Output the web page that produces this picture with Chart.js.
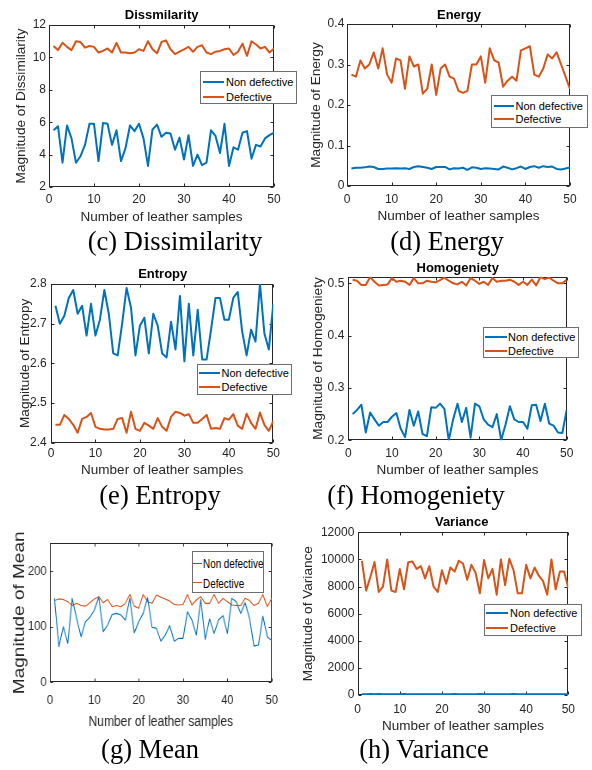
<!DOCTYPE html>
<html><head><meta charset="utf-8">
<script src="https://cdn.jsdelivr.net/npm/chart.js@4.4.1/dist/chart.umd.min.js"></script>
<style>
html,body{margin:0;padding:0;background:#fff;}
#page{position:relative;width:592px;height:770px;overflow:hidden;background:#fff;}
canvas{position:absolute;}
.t{position:absolute;white-space:nowrap;transform:translate(-50%,-50%);line-height:1;}
.ttl{font:bold 13px "Liberation Sans",Arial,sans-serif;color:#000;}
.cap{font:26.5px "Liberation Serif","Times New Roman",serif;color:#000;}
.lg{position:absolute;background:#fff;border:1px solid #6e6e6e;box-sizing:border-box;}
.lgl{position:absolute;}
.lgt{position:absolute;white-space:nowrap;line-height:1;transform:translateY(-50%);color:#000;font-family:"Liberation Sans",Arial,sans-serif;}
</style></head>
<body><div id="page"></div>
<script>
// ---------------- DATA ----------------
const samples = [1,2,3,4,5,6,7,8,9,10,11,12,13,14,15,16,17,18,19,20,21,22,23,24,25,26,27,28,29,30,31,32,33,34,35,36,37,38,39,40,41,42,43,44,45,46,47,48,49,50];
const xTicks = [0,10,20,30,40,50];
const seriesNames = ['Non defective','Defective'];

const dissimNon = [5.5,5.75,3.5,5.8,5.0,3.5,3.9,4.6,5.9,5.9,3.6,5.95,5.9,4.6,5.5,3.6,4.4,5.8,5.45,5.9,5.0,3.3,5.55,5.85,5.1,5.35,5.3,4.3,5.05,3.7,5.2,3.3,4.0,3.35,3.5,5.5,5.15,4.1,5.9,3.3,4.45,4.3,5.35,5.45,3.75,4.6,4.5,5.0,5.2,5.35];
const dissimDef = [10.7,10.45,10.9,10.65,10.45,11.0,10.95,10.6,10.7,10.65,10.3,10.4,10.55,10.3,10.9,10.3,10.3,10.25,10.3,10.5,10.4,11.0,10.5,10.25,10.95,11.05,10.5,10.2,10.35,10.5,10.65,10.35,10.65,10.75,10.3,10.2,10.35,10.4,10.5,10.55,10.15,10.35,10.85,10.1,11.0,10.8,10.55,10.65,10.3,10.55];
const dissimTicks = [2,4,6,8,10,12];

const energyNon = [0.043,0.045,0.045,0.046,0.048,0.047,0.042,0.042,0.043,0.043,0.044,0.043,0.044,0.042,0.047,0.049,0.047,0.045,0.042,0.047,0.047,0.047,0.041,0.044,0.043,0.045,0.040,0.046,0.045,0.042,0.044,0.043,0.042,0.041,0.048,0.045,0.041,0.044,0.048,0.042,0.047,0.049,0.045,0.049,0.047,0.048,0.042,0.041,0.043,0.046];
const energyDef = [0.275,0.27,0.31,0.29,0.30,0.33,0.29,0.34,0.275,0.255,0.315,0.31,0.24,0.32,0.295,0.30,0.228,0.24,0.30,0.225,0.29,0.30,0.27,0.265,0.235,0.23,0.235,0.30,0.30,0.32,0.255,0.34,0.31,0.305,0.245,0.26,0.27,0.26,0.335,0.34,0.345,0.275,0.27,0.29,0.325,0.315,0.33,0.30,0.27,0.24];
const energyTicks = [0,0.1,0.2,0.3,0.4];

const entropyNon = [2.745,2.70,2.72,2.765,2.785,2.725,2.745,2.67,2.75,2.67,2.71,2.785,2.725,2.625,2.62,2.70,2.79,2.74,2.62,2.695,2.715,2.625,2.725,2.695,2.625,2.615,2.705,2.635,2.77,2.605,2.75,2.62,2.735,2.61,2.61,2.685,2.765,2.765,2.71,2.71,2.765,2.78,2.68,2.62,2.685,2.655,2.80,2.675,2.635,2.75];
const entropyDef = [2.445,2.445,2.47,2.46,2.445,2.425,2.46,2.465,2.475,2.44,2.435,2.433,2.433,2.435,2.46,2.462,2.425,2.478,2.435,2.43,2.45,2.443,2.435,2.462,2.44,2.43,2.465,2.478,2.475,2.468,2.472,2.45,2.45,2.46,2.47,2.435,2.437,2.435,2.462,2.458,2.472,2.443,2.435,2.473,2.45,2.435,2.476,2.445,2.43,2.455];
const entropyTicks = [2.4,2.5,2.6,2.7,2.8];

const homogNon = [0.25,0.258,0.268,0.215,0.253,0.24,0.228,0.235,0.235,0.245,0.252,0.222,0.206,0.258,0.228,0.255,0.212,0.208,0.263,0.262,0.27,0.26,0.2,0.24,0.27,0.235,0.262,0.205,0.27,0.265,0.24,0.23,0.225,0.25,0.2,0.23,0.265,0.24,0.235,0.235,0.222,0.267,0.268,0.237,0.27,0.232,0.228,0.215,0.214,0.258];
const homogDef = [0.507,0.505,0.497,0.497,0.512,0.503,0.496,0.497,0.498,0.51,0.503,0.505,0.503,0.497,0.51,0.5,0.5,0.505,0.503,0.502,0.506,0.511,0.505,0.5,0.498,0.503,0.496,0.51,0.505,0.499,0.503,0.497,0.51,0.503,0.505,0.505,0.507,0.503,0.497,0.503,0.497,0.507,0.496,0.512,0.508,0.511,0.505,0.5,0.5,0.507];
const homogTicks = [0.2,0.3,0.4,0.5];

const meanNon = [151,64,100,70,151,115,82,109,117,130,153,91,103,122,124,121,112,151,89,109,124,152,99,97,74,85,102,74,79,79,127,112,85,149,77,114,88,112,120,88,151,145,124,143,115,65,67,119,82,75];
const meanDef = [147,150,149,145,138,142,138,137,143,150,154,143,149,136,138,136,142,158,137,133,158,145,142,157,153,150,146,140,139,140,158,139,148,154,142,142,158,142,151,145,139,138,138,151,147,138,142,158,136,151];
const meanTicks = [0,100,200];

const varNon = [60,55,70,50,65,58,52,62,57,50,66,60,54,63,58,52,61,56,50,64,59,53,68,57,51,62,55,60,66,52,58,63,50,57,61,54,65,58,52,60,56,63,51,59,64,55,60,53,58,62];
const varDef = [9900,7700,8700,9800,7600,8000,10000,7700,7600,9300,7800,9800,9850,9300,9500,8600,9500,8000,7600,9200,8200,9400,9100,9900,9700,8500,9600,9000,7500,9950,8600,9300,7400,10000,8100,10050,9200,7500,7500,9600,8600,9400,8800,8400,7400,10000,7800,9100,9100,7900];
const varTicks = [0,2000,4000,6000,8000,10000,12000];

// ---------------- STYLE / LAYOUT ----------------
const BLUE = '#0072BD', ORANGE = '#D95319', AXC = '#262626';
const FONT = '"Liberation Sans", Arial, sans-serif';

const panels = [
 {non:dissimNon, def:dissimDef, yTicks:dissimTicks, yMin:2, yMax:12, title:'Dissmilarity', ylabel:'Magnitude of Dissimilarity', caption:'(c) Dissimilarity',
  canvas:{x:0,y:0,w:296,h:232}, plot:{l:49,t:25,r:274,b:187}, ylabCx:21.7, xlabCy:217, xtickCy:199.5, ytickGap:3, titleC:[161.7,14], capC:[175,241],
  legend:{x0:200,y0:71,x1:297,y1:104,lx0:203,lx1:224,tx:226,rows:[82.3,96.7]}},
 {non:energyNon, def:energyDef, yTicks:energyTicks, yMin:0, yMax:0.4, title:'Energy', ylabel:'Magnitude of Energy', caption:'(d) Energy',
  canvas:{x:296,y:0,w:296,h:232}, plot:{l:347,t:24,r:570,b:186}, ylabCx:316.7, xlabCy:216.7, xtickCy:200, ytickGap:2.7, titleC:[459,14], capC:[447,241],
  legend:{x0:491,y0:95,x1:588,y1:128,lx0:494,lx1:514,tx:515.5,rows:[106,119.3]}},
 {non:entropyNon, def:entropyDef, yTicks:entropyTicks, yMin:2.4, yMax:2.8, title:'Entropy', ylabel:'Magnitude of Entropy', caption:'(e) Entropy',
  canvas:{x:0,y:258,w:296,h:224}, plot:{l:51,t:284,r:273.3,b:442.7}, ylabCx:25, xlabCy:470, xtickCy:453.3, ytickGap:4.3, titleC:[162.7,273.3], capC:[160,495],
  legend:{x0:196.7,y0:364.3,x1:291.7,y1:395,lx0:199,lx1:220,tx:221.5,rows:[373.3,387.3]}},
 {non:homogNon, def:homogDef, yTicks:homogTicks, yMin:0.2, yMax:0.5127, title:'Homogeniety', ylabel:'Magnitude of Homogeniety', caption:'(f) Homogeniety',
  canvas:{x:296,y:258,w:296,h:224}, plot:{l:348.3,t:276.7,r:566.7,b:440.3}, ylabCx:318.3, xlabCy:470, xtickCy:453.3, ytickGap:4, titleC:[457.7,266.7], capC:[416,495],
  legend:{x0:482.7,y0:326.7,x1:579,y1:358.3,lx0:485,lx1:506.7,tx:508,rows:[336.7,350.7]}},
 {non:meanNon, def:meanDef, yTicks:meanTicks, yMin:0, yMax:250, title:null, ylabel:'Magnitude of Mean', caption:'(g) Mean', thin:true, sx:0.86,
  canvas:{x:0,y:520,w:300,h:215}, plot:{l:50,t:543.3,r:271.7,b:682.3}, ylabCx:20, xlabCy:722.3, xtickCy:700, ytickGap:3.3, capC:[150,749],
  tickSize:13, labSize:14, ylabSize:19,
  legend:{x0:191.7,y0:550.7,x1:264.3,y1:592.7,lx0:193,lx1:201.7,tx:202.5,rows:[563.3,582.7],fs:13,tsx:0.76,lw:1}},
 {non:varNon, def:varDef, yTicks:varTicks, yMin:0, yMax:12000, title:'Variance', ylabel:'Magnitude of Variance', caption:'(h) Variance',
  canvas:{x:296,y:510,w:296,h:228}, plot:{l:357.7,t:532.3,r:568.3,b:695}, ylabCx:308.3, xlabCy:726.7, xtickCy:709.3, ytickGap:3.4, titleC:[461.7,520.5], capC:[424,749],
  legend:{x0:484,y0:604.3,x1:581.7,y1:635.7,lx0:485.7,lx1:508.3,tx:510,rows:[613.3,627.7]}}
];

const framePlugin = {
  id: 'frame',
  beforeDatasetsDraw(chart) {
    const {ctx, chartArea: a, scales: {x, y}} = chart;
    ctx.save();
    ctx.strokeStyle = AXC; ctx.lineWidth = 1;
    const L = Math.round(a.left) + 0.5, T = Math.round(a.top) + 0.5, R = Math.round(a.right) - 0.5, B = Math.round(a.bottom) - 0.5;
    ctx.strokeRect(L, T, R - L, B - T);
    ctx.beginPath();
    const tl = 3;
    x.ticks.forEach(t => { const p = Math.round(x.getPixelForValue(t.value)) + 0.5; ctx.moveTo(p, B); ctx.lineTo(p, B - tl); ctx.moveTo(p, T); ctx.lineTo(p, T + tl); });
    y.ticks.forEach(t => { const p = Math.round(y.getPixelForValue(t.value)) + 0.5; ctx.moveTo(L, p); ctx.lineTo(L + tl, p); ctx.moveTo(R, p); ctx.lineTo(R - tl, p); });
    ctx.stroke();
    ctx.restore();
  }
};

const page = document.getElementById('page');

function addText(cls, txt, cx, cy) {
  const d = document.createElement('div');
  d.className = 't ' + cls; d.textContent = txt;
  d.style.left = cx + 'px'; d.style.top = cy + 'px';
  page.appendChild(d);
}

function addLegend(L) {
  const box = document.createElement('div');
  box.className = 'lg';
  box.style.left = L.x0 + 'px'; box.style.top = L.y0 + 'px';
  box.style.width = (L.x1 - L.x0) + 'px'; box.style.height = (L.y1 - L.y0) + 'px';
  page.appendChild(box);
  const cols = [BLUE, ORANGE];
  const lw = L.lw || 2;
  seriesNames.forEach((name, i) => {
    const ln = document.createElement('div');
    ln.className = 'lgl';
    ln.style.left = L.lx0 + 'px'; ln.style.width = (L.lx1 - L.lx0) + 'px';
    ln.style.top = (L.rows[i] - lw / 2) + 'px'; ln.style.height = lw + 'px';
    ln.style.background = cols[i];
    page.appendChild(ln);
    const tx = document.createElement('div');
    tx.className = 'lgt';
    tx.textContent = name;
    tx.style.left = L.tx + 'px'; tx.style.top = L.rows[i] + 'px';
    tx.style.fontSize = (L.fs || 11) + 'px';
    if (L.tsx) { tx.style.transform = 'translateY(-50%) scaleX(' + L.tsx + ')'; tx.style.transformOrigin = '0 50%'; }
    page.appendChild(tx);
  });
}

panels.forEach(P => {
  const sx = P.sx || 1;
  const cv = document.createElement('canvas');
  const lw = Math.round(P.canvas.w / sx), lh = P.canvas.h;
  cv.width = lw; cv.height = lh;
  cv.style.left = P.canvas.x + 'px'; cv.style.top = P.canvas.y + 'px';
  cv.style.width = lw + 'px'; cv.style.height = lh + 'px';
  if (sx !== 1) { cv.style.transform = 'scaleX(' + sx + ')'; cv.style.transformOrigin = '0 0'; }
  page.appendChild(cv);

  const tickSize = P.tickSize || 12, labSize = P.labSize || 13.5, ylabSize = P.ylabSize || 13.6;
  const plotL = (P.plot.l - P.canvas.x) / sx, plotR = (P.plot.r - P.canvas.x) / sx;
  const padTop = P.plot.t - P.canvas.y;
  const padRight = lw - plotR;
  const yWidth = plotL;
  const xHeight = P.canvas.y + P.canvas.h - P.plot.b;
  const ylabPad = (P.ylabCx - P.canvas.x) / sx - ylabSize * 1.2 / 2;
  const xlabPad = P.canvas.y + P.canvas.h - P.xlabCy - labSize * 1.2 / 2;
  const xtickPad = P.xtickCy - P.plot.b - tickSize * 1.2 / 2;
  const lineW = P.thin ? 1.1 : 2;

  new Chart(cv, {
    type: 'line',
    data: {
      datasets: [
        {label: seriesNames[0], data: samples.map((s, i) => ({x: s, y: P.non[i]})), borderColor: BLUE, borderWidth: lineW, pointRadius: 0, tension: 0, borderJoinStyle: 'round', fill: false},
        {label: seriesNames[1], data: samples.map((s, i) => ({x: s, y: P.def[i]})), borderColor: ORANGE, borderWidth: lineW, pointRadius: 0, tension: 0, borderJoinStyle: 'round', fill: false}
      ]
    },
    options: {
      responsive: false, animation: false, devicePixelRatio: 1,
      layout: {padding: {top: padTop, right: padRight, left: 0, bottom: 0}},
      plugins: {legend: {display: false}, title: {display: false}, tooltip: {enabled: false}},
      events: [],
      scales: {
        x: {
          type: 'linear', min: 0, max: 50,
          grid: {display: false, drawTicks: false}, border: {display: false},
          afterBuildTicks: s => { s.ticks = xTicks.map(v => ({value: v})); },
          afterFit: s => { s.height = xHeight; },
          ticks: {color: AXC, font: {family: FONT, size: tickSize}, padding: xtickPad, maxRotation: 0, callback: v => String(v)},
          title: {display: true, text: 'Number of leather samples', color: AXC, font: {family: FONT, size: labSize}, padding: {top: 0, bottom: xlabPad}}
        },
        y: {
          type: 'linear', min: P.yMin, max: P.yMax,
          grid: {display: false, drawTicks: false}, border: {display: false},
          afterBuildTicks: s => { s.ticks = P.yTicks.map(v => ({value: v})); },
          afterFit: s => { s.width = yWidth; },
          ticks: {color: AXC, font: {family: FONT, size: tickSize}, padding: P.ytickGap / sx, callback: v => String(v)},
          title: {display: true, text: P.ylabel, color: AXC, font: {family: FONT, size: ylabSize}, padding: {top: ylabPad, bottom: 0}}
        }
      }
    },
    plugins: [framePlugin]
  });

  if (P.title) addText('ttl', P.title, P.titleC[0], P.titleC[1]);
  addText('cap', P.caption, P.capC[0], P.capC[1]);
  addLegend(P.legend);
});
</script>
</body></html>
